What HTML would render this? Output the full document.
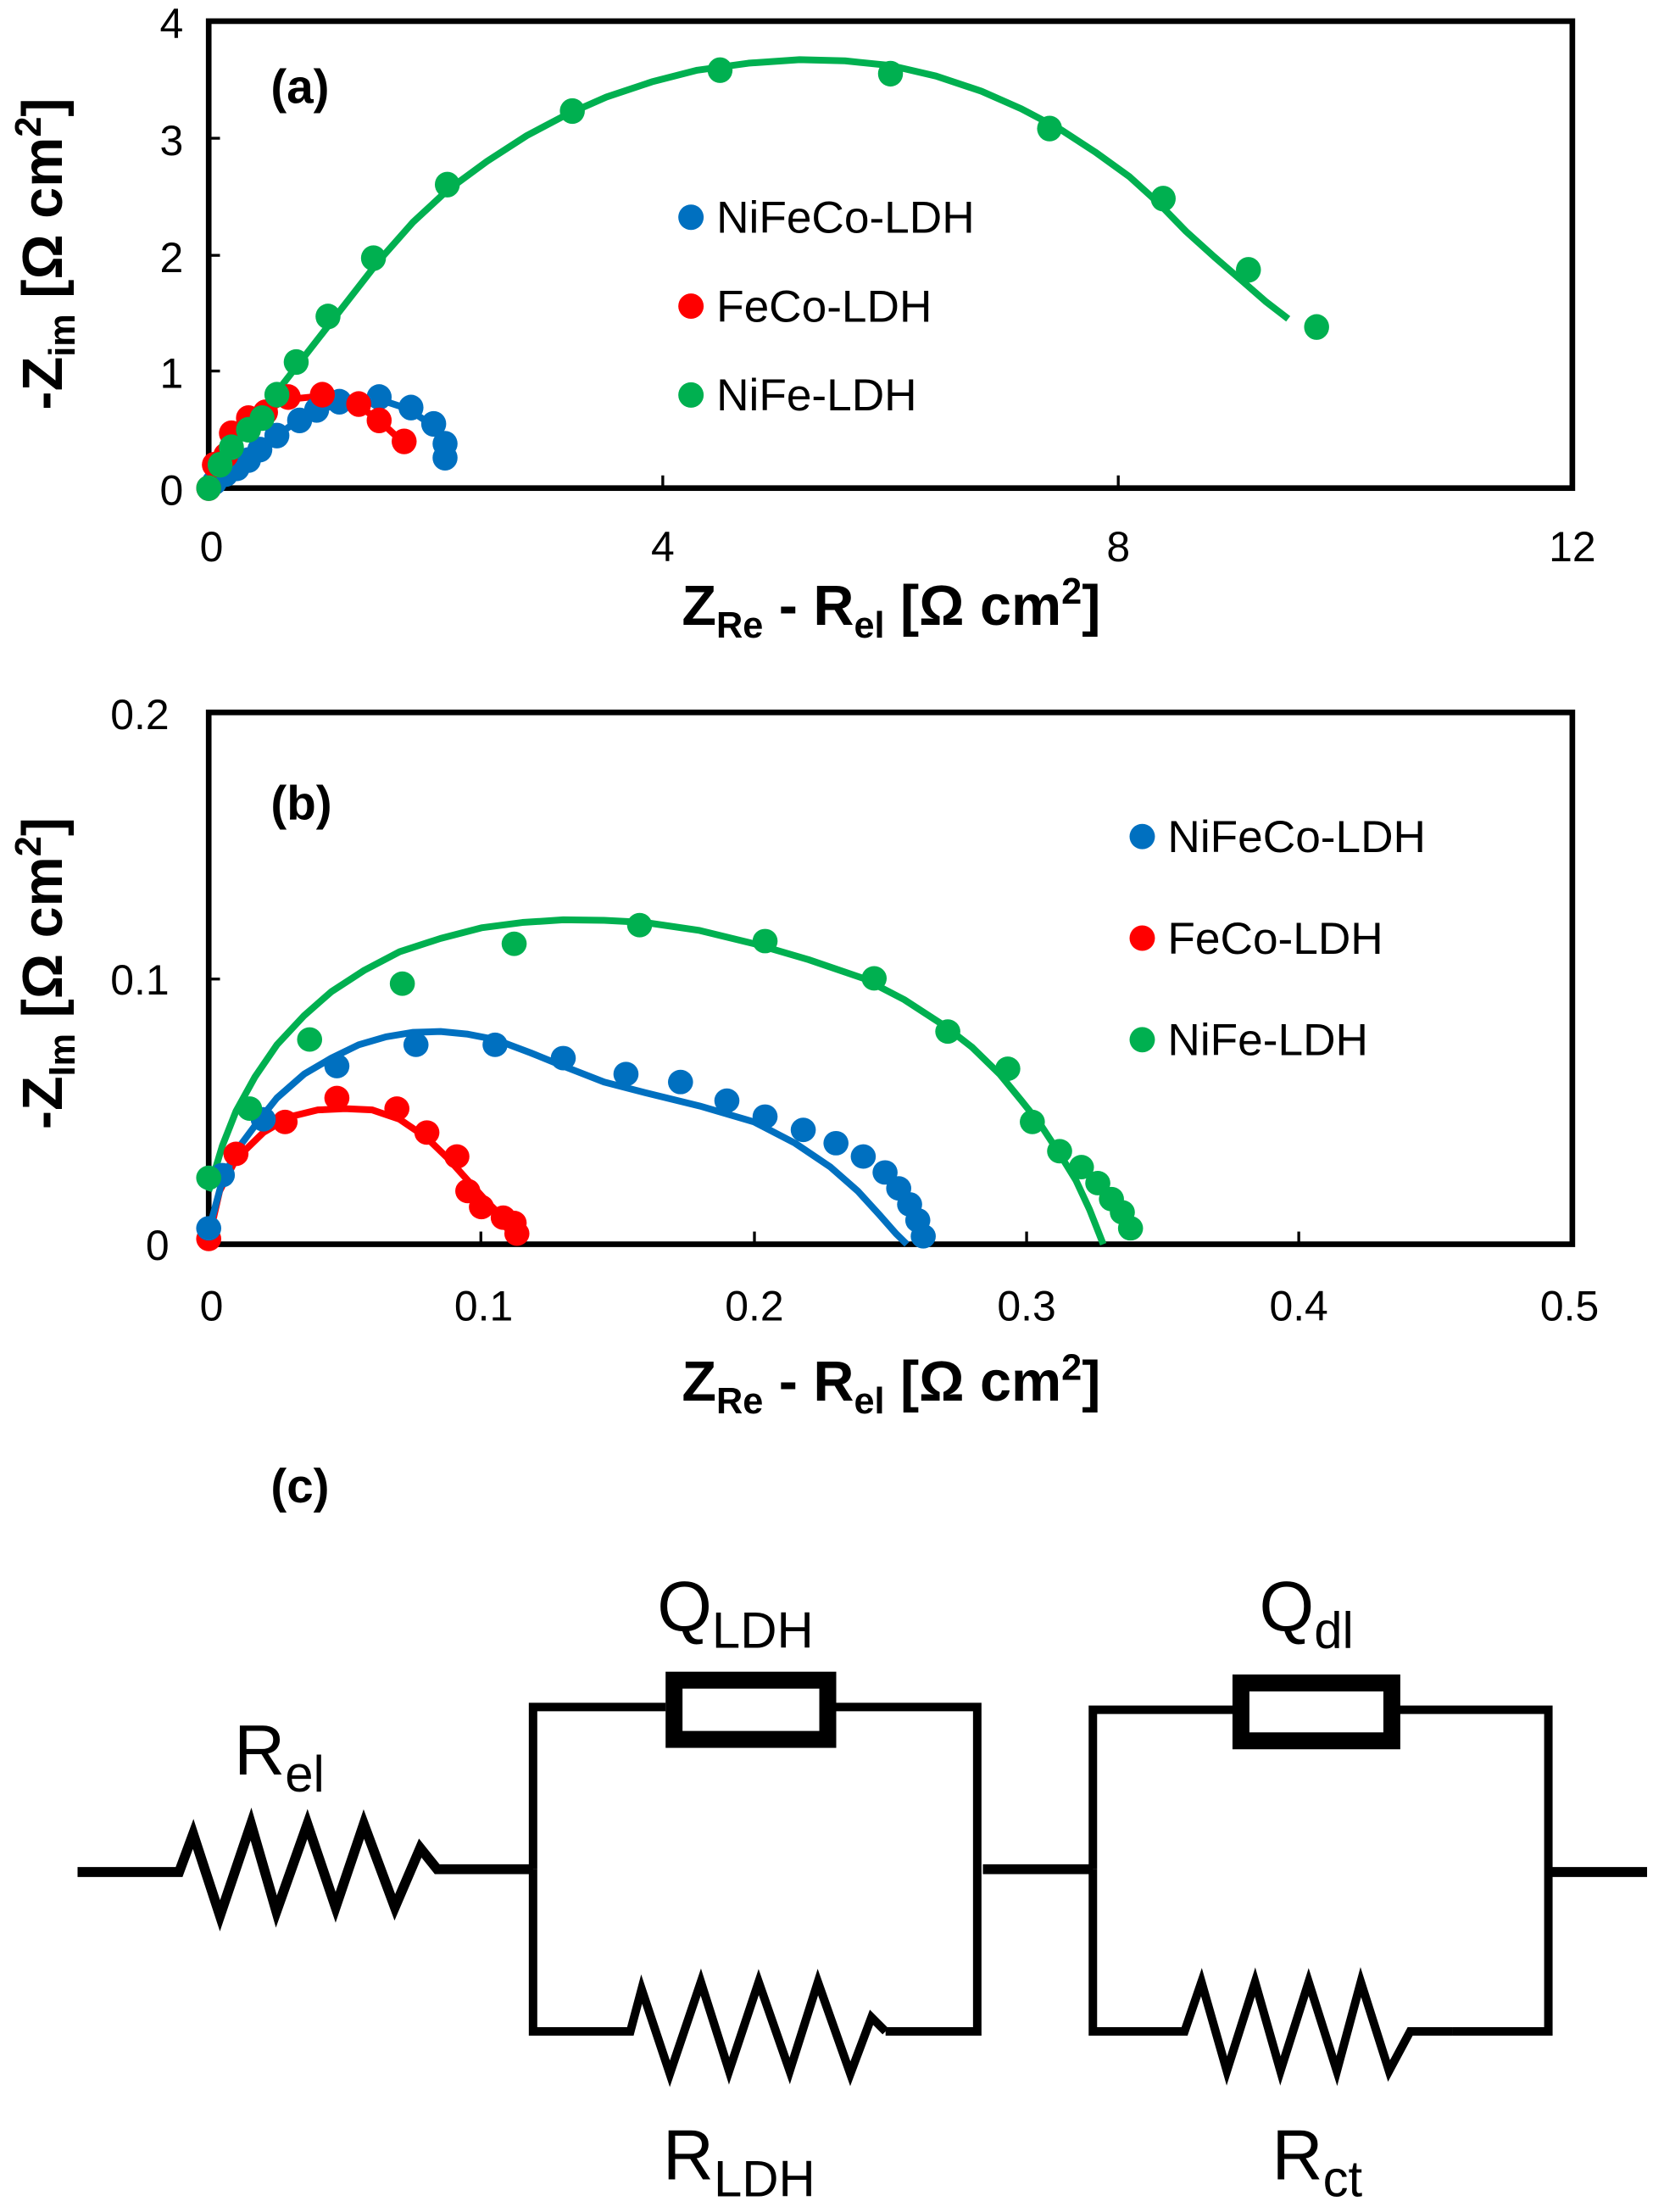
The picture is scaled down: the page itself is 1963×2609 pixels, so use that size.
<!DOCTYPE html>
<html><head><meta charset="utf-8"><style>html,body{margin:0;padding:0;background:#fff}svg{display:block}</style></head>
<body>
<svg width="1963" height="2609" viewBox="0 0 1180 1568" preserveAspectRatio="none" xmlns="http://www.w3.org/2000/svg" font-family="Liberation Sans, Arial, sans-serif">
<!-- Plot (a) -->
<rect x="148" y="15" width="967" height="331" fill="none" stroke="#000" stroke-width="4"/>
<line x1="470" y1="346" x2="470" y2="337" stroke="#000" stroke-width="2"/>
<line x1="793" y1="346" x2="793" y2="337" stroke="#000" stroke-width="2"/>
<line x1="148" y1="98" x2="156" y2="98" stroke="#000" stroke-width="2"/>
<line x1="148" y1="181" x2="156" y2="181" stroke="#000" stroke-width="2"/>
<line x1="148" y1="263" x2="156" y2="263" stroke="#000" stroke-width="2"/>
<g font-size="30" text-anchor="end">
<text x="130" y="27">4</text><text x="130" y="110">3</text><text x="130" y="193">2</text><text x="130" y="275">1</text><text x="130" y="358">0</text>
</g>
<g font-size="30" text-anchor="middle">
<text x="150" y="398">0</text><text x="470" y="398">4</text><text x="793" y="398">8</text><text x="1115" y="398">12</text>
</g>
<text x="632" y="443" font-size="40" font-weight="bold" text-anchor="middle">Z<tspan font-size="26" dy="9">Re</tspan><tspan dy="-9"> - R</tspan><tspan font-size="26" dy="9">el</tspan><tspan dy="-9"> [Ω cm</tspan><tspan font-size="26" dy="-15">2</tspan><tspan dy="15">]</tspan></text>
<text transform="translate(44,180) rotate(-90)" font-size="40" font-weight="bold" text-anchor="middle">-Z<tspan font-size="26" dy="9">im</tspan><tspan dy="-9"> [Ω cm</tspan><tspan font-size="26" dy="-15">2</tspan><tspan dy="15">]</tspan></text>
<text x="192" y="73" font-size="34" font-weight="bold">(a)</text>
<g font-size="32">
<circle cx="490" cy="154" r="9" fill="#0070c0"/><text x="508" y="165">NiFeCo-LDH</text>
<circle cx="490" cy="217" r="9" fill="#ff0000"/><text x="508" y="228">FeCo-LDH</text>
<circle cx="490" cy="280" r="9" fill="#00b050"/><text x="508" y="291">NiFe-LDH</text>
</g>
<g transform="translate(148,346) scale(80.58,-82.75)">
<polyline vector-effect="non-scaling-stroke" fill="none" stroke="#0070c0" stroke-width="8" stroke-linejoin="round" points="0,0 0.2,0.14 0.45,0.33 0.7,0.52 0.95,0.66 1.2,0.74 1.5,0.76 1.75,0.68 1.95,0.55 2.08,0.38 2.1,0.25"/>
<polyline vector-effect="non-scaling-stroke" fill="none" stroke="#ff0000" stroke-width="8" stroke-linejoin="round" points="0,0 0.05,0.22 0.2,0.45 0.4,0.62 0.7,0.76 1.0,0.79 1.3,0.72 1.5,0.58 1.7,0.4"/>
<polyline vector-effect="non-scaling-stroke" fill="none" stroke="#00b050" stroke-width="8" stroke-linejoin="round" points="0,0 0.3,0.45 0.7,0.95 1.1,1.45 1.5,1.95 1.8,2.28 2.1,2.55 2.45,2.8 2.8,3.02 3.15,3.2 3.5,3.35 3.9,3.48 4.3,3.58 4.75,3.64 5.2,3.67 5.6,3.66 6.0,3.62 6.4,3.53 6.8,3.4 7.15,3.25 7.5,3.07 7.8,2.88 8.1,2.67 8.35,2.45 8.6,2.2 8.85,1.98 9.1,1.77 9.3,1.6 9.5,1.45"/>
<g fill="#0070c0">
<circle cx="0.05" cy="0.05" r="0.11"/><circle cx="0.15" cy="0.12" r="0.11"/><circle cx="0.25" cy="0.17" r="0.11"/><circle cx="0.35" cy="0.24" r="0.11"/><circle cx="0.45" cy="0.33" r="0.11"/><circle cx="0.6" cy="0.45" r="0.11"/><circle cx="0.8" cy="0.58" r="0.11"/><circle cx="0.95" cy="0.67" r="0.11"/><circle cx="1.15" cy="0.74" r="0.11"/><circle cx="1.5" cy="0.78" r="0.11"/><circle cx="1.78" cy="0.69" r="0.11"/><circle cx="1.98" cy="0.55" r="0.11"/><circle cx="2.08" cy="0.38" r="0.11"/><circle cx="2.08" cy="0.26" r="0.11"/>
</g>
<g fill="#ff0000">
<circle cx="0" cy="0" r="0.11"/><circle cx="0.05" cy="0.2" r="0.11"/><circle cx="0.15" cy="0.28" r="0.11"/><circle cx="0.2" cy="0.47" r="0.11"/><circle cx="0.35" cy="0.6" r="0.11"/><circle cx="0.5" cy="0.65" r="0.11"/><circle cx="0.7" cy="0.78" r="0.11"/><circle cx="1.0" cy="0.8" r="0.11"/><circle cx="1.32" cy="0.72" r="0.11"/><circle cx="1.5" cy="0.58" r="0.11"/><circle cx="1.72" cy="0.4" r="0.11"/>
</g>
<g fill="#00b050">
<circle cx="0" cy="0" r="0.11"/><circle cx="0.1" cy="0.2" r="0.11"/><circle cx="0.2" cy="0.35" r="0.11"/><circle cx="0.35" cy="0.5" r="0.11"/><circle cx="0.47" cy="0.6" r="0.11"/><circle cx="0.6" cy="0.8" r="0.11"/><circle cx="0.77" cy="1.08" r="0.11"/><circle cx="1.05" cy="1.47" r="0.11"/><circle cx="1.45" cy="1.97" r="0.11"/><circle cx="2.1" cy="2.6" r="0.11"/><circle cx="3.2" cy="3.23" r="0.11"/><circle cx="4.5" cy="3.58" r="0.11"/><circle cx="6.0" cy="3.55" r="0.11"/><circle cx="7.4" cy="3.08" r="0.11"/><circle cx="8.4" cy="2.48" r="0.11"/><circle cx="9.15" cy="1.87" r="0.11"/><circle cx="9.75" cy="1.38" r="0.11"/>
</g>
</g>

<!-- Plot (b) -->
<rect x="148" y="505" width="967" height="377" fill="none" stroke="#000" stroke-width="4"/>
<g stroke="#000" stroke-width="2">
<line x1="341" y1="882" x2="341" y2="873"/><line x1="535" y1="882" x2="535" y2="873"/><line x1="728" y1="882" x2="728" y2="873"/><line x1="921" y1="882" x2="921" y2="873"/>
<line x1="148" y1="694" x2="156" y2="694"/>
</g>
<g font-size="30" text-anchor="end">
<text x="120" y="517">0.2</text><text x="120" y="705">0.1</text><text x="120" y="893">0</text>
</g>
<g font-size="30" text-anchor="middle">
<text x="150" y="936">0</text><text x="343" y="936">0.1</text><text x="535" y="936">0.2</text><text x="728" y="936">0.3</text><text x="921" y="936">0.4</text><text x="1113" y="936">0.5</text>
</g>
<text x="632" y="993" font-size="40" font-weight="bold" text-anchor="middle">Z<tspan font-size="26" dy="9">Re</tspan><tspan dy="-9"> - R</tspan><tspan font-size="26" dy="9">el</tspan><tspan dy="-9"> [Ω cm</tspan><tspan font-size="26" dy="-15">2</tspan><tspan dy="15">]</tspan></text>
<text transform="translate(44,690) rotate(-90)" font-size="40" font-weight="bold" text-anchor="middle">-Z<tspan font-size="26" dy="9">Im</tspan><tspan dy="-9"> [Ω cm</tspan><tspan font-size="26" dy="-15">2</tspan><tspan dy="15">]</tspan></text>
<text x="192" y="581" font-size="34" font-weight="bold">(b)</text>
<g font-size="32">
<circle cx="810" cy="593" r="9" fill="#0070c0"/><text x="828" y="604">NiFeCo-LDH</text>
<circle cx="810" cy="665" r="9" fill="#ff0000"/><text x="828" y="676">FeCo-LDH</text>
<circle cx="810" cy="737" r="9" fill="#00b050"/><text x="828" y="748">NiFe-LDH</text>
</g>
<g transform="translate(148,882) scale(1934,-1885)">
<polyline vector-effect="non-scaling-stroke" fill="none" stroke="#ff0000" stroke-width="8" stroke-linejoin="round" points="0,0.002 0.004,0.02 0.01,0.032 0.02,0.042 0.03,0.048 0.04,0.0505 0.05,0.051 0.06,0.0505 0.07,0.047 0.08,0.04 0.088,0.032 0.095,0.024 0.102,0.016 0.108,0.01 0.113,0.005"/>
<polyline vector-effect="non-scaling-stroke" fill="none" stroke="#0070c0" stroke-width="8" stroke-linejoin="round" points="0,0.005 0.005,0.024 0.01,0.035 0.018,0.046 0.025,0.055 0.035,0.064 0.045,0.07 0.055,0.075 0.065,0.078 0.075,0.0797 0.085,0.08 0.095,0.079 0.105,0.077 0.118,0.072 0.13,0.067 0.145,0.061 0.16,0.057 0.18,0.052 0.2,0.046 0.215,0.038 0.228,0.029 0.238,0.02 0.246,0.011 0.252,0.004 0.256,0"/>
<polyline vector-effect="non-scaling-stroke" fill="none" stroke="#00b050" stroke-width="8" stroke-linejoin="round" points="0,0.02 0.005,0.037 0.01,0.05 0.017,0.063 0.025,0.075 0.035,0.086 0.045,0.095 0.057,0.103 0.07,0.11 0.085,0.115 0.1,0.119 0.115,0.121 0.13,0.122 0.145,0.1218 0.16,0.121 0.18,0.118 0.2,0.113 0.22,0.107 0.24,0.1 0.255,0.092 0.27,0.082 0.28,0.074 0.29,0.064 0.298,0.054 0.305,0.045 0.312,0.034 0.318,0.024 0.323,0.013 0.328,0"/>
<g fill="#ff0000">
<circle cx="0" cy="0.002" r="0.0046"/><circle cx="0.01" cy="0.034" r="0.0046"/><circle cx="0.028" cy="0.046" r="0.0046"/><circle cx="0.047" cy="0.055" r="0.0046"/><circle cx="0.069" cy="0.051" r="0.0046"/><circle cx="0.08" cy="0.042" r="0.0046"/><circle cx="0.091" cy="0.033" r="0.0046"/><circle cx="0.095" cy="0.02" r="0.0046"/><circle cx="0.1" cy="0.014" r="0.0046"/><circle cx="0.108" cy="0.01" r="0.0046"/><circle cx="0.112" cy="0.008" r="0.0046"/><circle cx="0.113" cy="0.004" r="0.0046"/>
</g>
<g fill="#0070c0">
<circle cx="0" cy="0.006" r="0.0046"/><circle cx="0.005" cy="0.026" r="0.0046"/><circle cx="0.02" cy="0.047" r="0.0046"/><circle cx="0.047" cy="0.067" r="0.0046"/><circle cx="0.076" cy="0.075" r="0.0046"/><circle cx="0.105" cy="0.075" r="0.0046"/><circle cx="0.13" cy="0.07" r="0.0046"/><circle cx="0.153" cy="0.064" r="0.0046"/><circle cx="0.173" cy="0.061" r="0.0046"/><circle cx="0.19" cy="0.054" r="0.0046"/><circle cx="0.204" cy="0.048" r="0.0046"/><circle cx="0.218" cy="0.043" r="0.0046"/><circle cx="0.23" cy="0.038" r="0.0046"/><circle cx="0.24" cy="0.033" r="0.0046"/><circle cx="0.248" cy="0.027" r="0.0046"/><circle cx="0.253" cy="0.021" r="0.0046"/><circle cx="0.257" cy="0.015" r="0.0046"/><circle cx="0.26" cy="0.009" r="0.0046"/><circle cx="0.262" cy="0.003" r="0.0046"/>
</g>
<g fill="#00b050">
<circle cx="0" cy="0.025" r="0.0046"/><circle cx="0.015" cy="0.051" r="0.0046"/><circle cx="0.037" cy="0.077" r="0.0046"/><circle cx="0.071" cy="0.098" r="0.0046"/><circle cx="0.112" cy="0.113" r="0.0046"/><circle cx="0.158" cy="0.12" r="0.0046"/><circle cx="0.204" cy="0.114" r="0.0046"/><circle cx="0.244" cy="0.1" r="0.0046"/><circle cx="0.271" cy="0.08" r="0.0046"/><circle cx="0.293" cy="0.066" r="0.0046"/><circle cx="0.302" cy="0.046" r="0.0046"/><circle cx="0.312" cy="0.035" r="0.0046"/><circle cx="0.32" cy="0.029" r="0.0046"/><circle cx="0.326" cy="0.023" r="0.0046"/><circle cx="0.331" cy="0.017" r="0.0046"/><circle cx="0.335" cy="0.012" r="0.0046"/><circle cx="0.338" cy="0.006" r="0.0046"/>
</g>
</g>

<!-- Circuit (c) -->
<text x="192" y="1065" font-size="34" font-weight="bold">(c)</text>
<g fill="none" stroke="#000" stroke-linejoin="miter">
<polyline stroke-width="7" points="55,1327 127,1327 137,1300 156,1358 178,1293 196,1355 218,1293 238,1352 258,1293 280,1352 298,1310 310,1325 378,1325"/>
<polyline stroke-width="6" points="378,1325 378,1210 472,1210"/>
<polyline stroke-width="6" points="592,1210 693,1210 693,1440 628,1440"/>
<polyline stroke-width="6" points="378,1325 378,1440 447,1440 455,1410 475,1470 497,1405 517,1468 538,1405 560,1468 580,1405 603,1470 618,1430 628,1440"/>
<rect x="478" y="1191" width="109" height="42" stroke-width="12"/>
<line x1="697" y1="1325" x2="775" y2="1325" stroke-width="7"/>
<polyline stroke-width="6" points="775,1325 775,1212 875,1212"/>
<polyline stroke-width="6" points="990,1212 1098,1212 1098,1440 1030,1440"/>
<polyline stroke-width="6" points="775,1325 775,1440 840,1440 852,1405 870,1468 890,1405 908,1468 928,1405 948,1468 965,1405 985,1468 1000,1440 1030,1440"/>
<rect x="880" y="1193" width="107" height="41" stroke-width="12"/>
<line x1="1098" y1="1327" x2="1168" y2="1327" stroke-width="7"/>
</g>
<g font-size="50">
<text x="166" y="1258">R<tspan font-size="36" dy="12">el</tspan></text>
<text x="466" y="1156">Q<tspan font-size="36" dy="12">LDH</tspan></text>
<text x="893" y="1156">Q<tspan font-size="36" dy="12">dl</tspan></text>
<text x="470" y="1545">R<tspan font-size="36" dy="12">LDH</tspan></text>
<text x="902" y="1545">R<tspan font-size="36" dy="12">ct</tspan></text>
</g>
</svg>
</body></html>
